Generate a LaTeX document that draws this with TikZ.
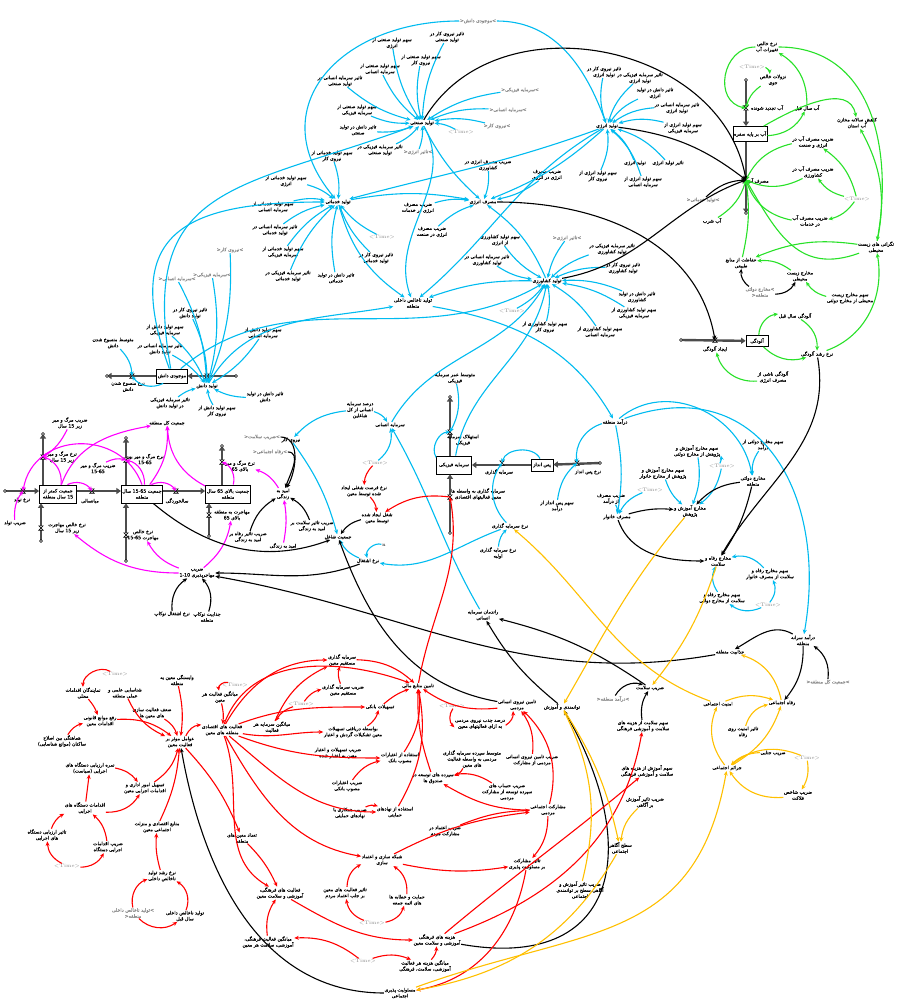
\documentclass[tikz,border=0pt]{standalone}
\usepackage{fontspec}
\usetikzlibrary{arrows.meta}
\TeXXeTstate=1
\newfontfamily\arabicfont[Script=Arabic,FakeBold=0.5]{DejaVu Sans}
\newcommand\F[1]{\beginR#1\endR}
\newcommand\N[1]{\beginL#1\endL}
\definecolor{cB}{RGB}{0,187,240}
\definecolor{cG}{RGB}{40,225,40}
\definecolor{cM}{RGB}{255,0,255}
\definecolor{cR}{RGB}{255,0,0}
\definecolor{cY}{RGB}{255,192,0}
\tikzset{
 lb/.style={font=\arabicfont\fontsize{4.7}{6}\selectfont,align=center,inner sep=0.5pt,text=black},
 gl/.style={lb,text=black!45},
 tm/.style={font=\fontsize{5}{6}\selectfont,text=black!45,inner sep=0.5pt},
 bx/.style={lb,draw,line width=0.8pt,fill=white,inner sep=2pt},
 ar/.style={line width=1.1pt,-{Stealth[length=4.5pt,width=4pt]}},
 B/.style={ar,draw=cB}, G/.style={ar,draw=cG}, M/.style={ar,draw=cM},
 R/.style={ar,draw=cR}, Y/.style={ar,draw=cY}, K/.style={ar,draw=black},
 pipe/.style={line width=2.4pt,draw=black!70,-{Triangle[length=4.5pt,width=6pt]}},
 pics/vlv/.style={code={\draw[line width=0.6pt,fill=white] (-2.2,-2.2)--(2.2,2.2)--(-2.2,2.2)--(2.2,-2.2)--cycle;}},
 pics/cld/.style={code={\draw[line width=0.5pt,fill=white] (0,0) circle (1.5);}},
}
\begin{document}
\begin{tikzpicture}[x=1pt,y=-1pt]
\path[use as bounding box,fill=white] (0,0) rectangle (897,1003);

% ================= BLUE PRODUCTION CLUSTER =================
\node[lb] (ind) at (422,123) {\F{تولید صنعتی}};
\node[lb] (srv) at (338,202) {\F{تولید خدماتی}};
\node[lb] (enc) at (483,202) {\F{مصرف انرژی}};
\node[lb] (enp) at (607,126) {\F{تولید انرژی}};
\node[lb] (agr) at (547,281) {\F{تولید کشاورزی}};
\node[lb] (gdp) at (413,303) {\F{تولید ناخالص داخلی}\\\F{منطقه}};

\node[lb] (i1) at (447,37) {\F{تاثیر نیروی کار در}\\\F{تولید صنعتی}};
\node[lb] (i2) at (392,43) {\F{سهم تولید صنعتی از}\\\F{انرژی}};
\node[lb] (i3) at (421,60) {\F{سهم تولید صنعتی از}\\\F{نیروی کار}};
\node[lb] (i4) at (380,69) {\F{سهم تولید صنعتی از}\\\F{سرمایه انسانی}};
\node[lb] (i5) at (340,81) {\F{تاثیر سرمایه انسانی در}\\\F{تولید صنعتی}};
\node[lb] (i6) at (357,110) {\F{سهم تولید صنعتی از}\\\F{سرمایه فیزیکی}};
\node[lb] (i7) at (358,130) {\F{تاثیر دانش در تولید}\\\F{صنعتی}};
\node[lb] (i8) at (380,150) {\F{تاثیر سرمایه فیزیکی در}\\\F{تولید صنعتی}};
\node[gl] (ig1) at (418,152) {<\F{تاثیر انرژی}>};
\node[tm] (it) at (461,132) {<Time>};
\node[gl] (ig2) at (520,90) {<\F{سرمایه فیزیکی}>};
\node[gl] (ig3) at (508,110) {<\F{سرمایه انسانی}>};
\node[gl] (ig4) at (497,126) {<\F{نیروی کار}>};
\node[gl] (ig5) at (478,21) {<\F{موجودی دانش}>};

\node[lb] (s1) at (286,181) {\F{سهم تولید خدماتی از}\\\F{انرژی}};
\node[lb] (s2) at (273,207) {\F{سهم تولید خدماتی از}\\\F{سرمایه انسانی}};
\node[lb] (s3) at (275,230) {\F{تاثیر سرمایه انسانی در}\\\F{تولید خدماتی}};
\node[lb] (s4) at (283,252) {\F{سهم تولید خدماتی از}\\\F{سرمایه فیزیکی}};
\node[lb] (s5) at (332,156) {\F{سهم تولید خدماتی از}\\\F{نیروی کار}};
\node[lb] (s6) at (376,258) {\F{تاثیر نیروی کار در}\\\F{تولید خدماتی}};
\node[lb] (s7) at (336,278) {\F{تاثیر دانش در تولید}\\\F{خدماتی}};
\node[lb] (s8) at (288,276) {\F{تاثیر سرمایه فیزیکی در}\\\F{تولید خدماتی}};
\node[tm] (st) at (382,237) {<Time>};

\node[lb] (e1) at (488,165) {\F{ضریب مصرف انرژی در}\\\F{کشاورزی}};
\node[lb] (e2) at (547,175) {\F{ضریب مصرف}\\\F{انرژی در انرژی}};
\node[lb] (e3) at (418,208) {\F{ضریب مصرف}\\\F{انرژی در خدمات}};
\node[lb] (e4) at (432,232) {\F{ضریب مصرف}\\\F{انرژی در صنعت}};

\node[lb] (p1) at (604,72) {\F{تاثیر نیروی کار در}\\\F{تولید انرژی}};
\node[lb] (p2) at (640,78) {\F{تاثیر سرمایه فیزیکی در}\\\F{تولید انرژی}};
\node[lb] (p3) at (655,93) {\F{تاثیر دانش در تولید}\\\F{انرژی}};
\node[lb] (p4) at (677,108) {\F{تاثیر سرمایه انسانی در}\\\F{تولید انرژی}};
\node[lb] (p5) at (683,128) {\F{سهم تولید انرژی از}\\\F{سرمایه فیزیکی}};
\node[lb] (p6) at (668,163) {\F{تاثیر تولید انرژی}};
\node[lb] (p7) at (635,163) {\F{تولید انرژی}};
\node[lb] (p8) at (598,176) {\F{سهم تولید انرژی از}\\\F{نیروی کار}};
\node[lb] (p9) at (643,182) {\F{سهم تولید انرژی از}\\\F{سرمایه انسانی}};

\node[lb] (a1) at (487,260) {\F{تاثیر سرمایه انسانی در}\\\F{تولید کشاورزی}};
\node[lb] (a2) at (612,249) {\F{تاثیر سرمایه فیزیکی در}\\\F{تولید کشاورزی}};
\node[lb] (a3) at (623,268) {\F{تاثیر نیروی کار در}\\\F{تولید کشاورزی}};
\node[lb] (a4) at (637,297) {\F{تاثیر دانش در تولید}\\\F{کشاورزی}};
\node[lb] (a5) at (634,313) {\F{سهم تولید کشاورزی از}\\\F{سرمایه فیزیکی}};
\node[lb] (a6) at (600,332) {\F{سهم تولید کشاورزی از}\\\F{سرمایه انسانی}};
\node[lb] (a7) at (545,327) {\F{سهم تولید کشاورزی از}\\\F{نیروی کار}};
\node[lb] (a8) at (500,240) {\F{سهم تولید کشاورزی}\\\F{از انرژی}};
\node[tm] (at) at (512,311) {<Time>};
\node[gl] (ag) at (567,238) {<\F{تاثیر انرژی}>};

% knowledge
\coordinate (ck1) at (236,376); \coordinate (vk1) at (207,376);
\coordinate (vk2) at (132,376); \coordinate (ck2) at (107,376);
\node[bx,minimum width=26pt,minimum height=14pt,inner sep=1pt] (kst) at (172,376) {\F{موجودی دانش}};
\draw[pipe] (ck1) -- (kst);
\draw[pipe] (kst) -- (ck2);
\pic at (ck1) {cld}; \pic at (ck2) {cld}; \pic at (vk1) {vlv}; \pic at (vk2) {vlv};
\node[lb] (knp) at (207,386) {\F{تولید دانش}};
\node[lb] (ko) at (128,387) {\F{نرخ منسوخ شدن}\\\F{دانش}};
\node[lb] (kavg) at (113,343) {\F{متوسط منسوخ شدن}\\\F{دانش}};
\node[lb] (k1) at (190,313) {\F{تاثیر نیروی کار در}\\\F{تولید دانش}};
\node[lb] (k2) at (165,330) {\F{سهم تولید دانش از}\\\F{سرمایه فیزیکی}};
\node[lb] (k3) at (160,349) {\F{تاثیر سرمایه انسانی در}\\\F{تولید دانش}};
\node[lb] (k4) at (263,333) {\F{سهم تولید دانش از}\\\F{سرمایه انسانی}};
\node[lb] (k5) at (265,397) {\F{تاثیر دانش در تولید}\\\F{دانش}};
\node[lb] (k6) at (170,403) {\F{تاثیر سرمایه فیزیکی}\\\F{در تولید دانش}};
\node[lb] (k7) at (217,411) {\F{سهم تولید دانش از}\\\F{نیروی کار}};
\node[gl] (kg1) at (177,279) {<\F{سرمایه انسانی}>};
\node[gl] (kg2) at (212,275) {<\F{سرمایه فیزیکی}>};
\node[gl] (kg3) at (230,250) {<\F{نیروی کار}>};

% ================= GREEN CLUSTER =================
\coordinate (cw1) at (746,80); \coordinate (vw1) at (746,108);
\coordinate (vw2) at (746,180); \coordinate (cw2) at (746,213);
\node[bx,minimum width=27pt,minimum height=15pt,inner sep=1pt] (wbox) at (750,134) {\F{آب بر پایه سفره}};
\draw[pipe] (cw1) -- (wbox.north -| cw1);
\draw[pipe] (wbox.south -| cw2) -- (cw2);
\pic at (cw1) {cld}; \pic at (cw2) {cld}; \pic at (vw1) {vlv}; \pic at (vw2) {vlv};
\node[lb] (wnet) at (767,47) {\F{نرخ خالص}\\\F{تغییرات آب}};
\node[tm] (wt) at (752,67) {<Time>};
\node[lb] (wrain) at (773,80) {\F{نزولات خالص}\\\F{جوی}};
\node[lb] (wren) at (767,108) {\F{آب تجدید شونده}};
\node[lb] (wprev) at (807,108) {\F{آب سال قبل}};
\node[lb] (wdec) at (857,123) {\F{کاهش سالانه مخازن}\\\F{آب استان}};
\node[lb] (wc1) at (813,142) {\F{ضریب مصرف آب در}\\\F{انرژی و صنعت}};
\node[lb] (wc2) at (813,172) {\F{ضریب مصرف آب در}\\\F{کشاورزی}};
\node[lb] (wuse) at (758,181) {\F{مصرف آب}};
\node[tm] (wt2) at (857,199) {<Time>};
\node[lb] (wc3) at (810,221) {\F{ضریب مصرف آب}\\\F{در خدمات}};
\node[lb] (wdr) at (712,221) {\F{آب شرب}};
\node[gl] (wsg) at (703,200) {<\F{تولید خدماتی}>};
\node[lb] (wenv) at (876,247) {\F{نگرانی های زیست}\\\F{محیطی}};
\node[lb] (wprot) at (741,263) {\F{حفاظت از منابع}\\\F{طبیعی}};
\node[lb] (wexp) at (800,276) {\F{مخارج زیست}\\\F{محیطی}};
\node[gl] (wgov) at (760,292) {\F{مخارج دولتی}>\\<\F{منطقه}};
\node[lb] (wsh) at (850,298) {\F{سهم مخارج زیست}\\\F{محیطی از مخارج دولتی}};
\node[lb] (pprev) at (795,316) {\F{آلودگی سال قبل}};
\coordinate (cp1) at (681,340); \coordinate (vp1) at (715,340);
\node[bx,minimum width=22pt,minimum height=11pt,inner sep=1pt] (pbox) at (757,341) {\F{آلودگی}};
\draw[pipe] (cp1) -- (pbox);
\pic at (cp1) {cld}; \pic at (vp1) {vlv};
\node[lb] (pgen) at (715,349) {\F{ایجاد آلودگی}};
\node[lb] (pgr) at (817,354) {\F{نرخ رشد آلودگی}};
\node[lb] (pen) at (773,377) {\F{آلودگی ناشی از}\\\F{مصرف انرژی}};

% ================= POPULATION (MAGENTA) =================
\node[bx,minimum width=37pt,minimum height=18pt,inner sep=1pt] (pb1) at (58,494) {\F{جمعیت کمتر از}\\\F{\N{15} سال منطقه}};
\node[bx,minimum width=37pt,minimum height=18pt,inner sep=1pt] (pb2) at (142,494) {\F{جمعیت \N{15-65} سال}\\\F{منطقه}};
\node[bx,minimum width=45pt,minimum height=18pt,inner sep=1pt] (pb3) at (228,494) {\F{جمعیت بالای \N{65} سال}\\\F{منطقه}};
\coordinate (cb0) at (5,491); \coordinate (vb) at (23,491);
\coordinate (vm) at (92,491); \coordinate (vo) at (176,491);
\draw[pipe] (cb0) -- (pb1.west |- cb0);
\draw[pipe] (pb1.east |- vm) -- (pb2.west |- vm);
\draw[pipe] (pb2.east |- vo) -- (pb3.west |- vo);
\coordinate (cd1) at (43,434); \coordinate (vd1) at (43,457);
\coordinate (cd2) at (126,438); \coordinate (vd2) at (126,460);
\coordinate (cd3) at (222,446); \coordinate (vd3) at (222,462);
\coordinate (cm1) at (41,541); \coordinate (vm1) at (41,528);
\coordinate (cm2) at (126,561); \coordinate (vm2) at (126,535);
\coordinate (cm3) at (209,536); \coordinate (vm3) at (209,515);
\draw[pipe] (pb1.north -| cd1) -- (cd1);
\draw[pipe] (pb2.north -| cd2) -- (cd2);
\draw[pipe] (pb3.north -| cd3) -- (cd3);
\draw[pipe] (cm1) -- (pb1.south -| cm1);
\draw[pipe] (cm2) -- (pb2.south -| cm2);
\draw[pipe] (cm3) -- (pb3.south -| cm3);
\foreach \c in {cb0,cd1,cd2,cd3,cm1,cm2,cm3} \pic at (\c) {cld};
\foreach \v in {vb,vm,vo,vd1,vd2,vd3,vm1,vm2,vm3} \pic at (\v) {vlv};
\node[lb] (mbr) at (22,500) {\F{نرخ تولد}};
\node[lb] (mmid) at (90,501) {\F{میانسالی}};
\node[lb] (mold) at (177,501) {\F{سالخوردگی}};
\node[lb] (mb) at (15,523) {\F{ضریب تولد}};
\node[lb] (m1) at (70,423) {\F{ضریب مرگ و میر}\\\F{زیر \N{15} سال}};
\node[lb] (m2) at (62,457) {\F{نرخ مرگ و میر}\\\F{زیر \N{15} سال}};
\node[lb] (m3) at (98,468) {\F{ضریب مرگ و میر}\\\F{\N{15-65}}};
\node[lb] (m4) at (145,459) {\F{نرخ مرگ و میر بین}\\\F{\N{15-65}}};
\node[lb] (m5) at (240,466) {\F{نرخ مرگ و میر}\\\F{بالای \N{65}}};
\node[lb] (m6) at (167,423) {\F{جمعیت کل منطقه}};
\node[lb] (m7) at (67,528) {\F{نرخ خالص مهاجرت}\\\F{زیر \N{15} سال}};
\node[lb] (m8) at (143,535) {\F{نرخ خالص}\\\F{مهاجرت \N{15-65}}};
\node[lb] (m9) at (232,515) {\F{مهاجرت به منطقه}\\\F{بالای \N{65}}};
\node[lb] (m10) at (197,573) {\F{ضریب}\\\F{مهاجرپذیری \N{1-10}}};
\node[lb] (m11) at (172,614) {\F{نرخ اشتغال نوکاپ}};
\node[lb] (m12) at (207,617) {\F{جذابیت نوکاپ}\\\F{منطقه}};
\node[lb] (le1) at (283,494) {\F{امید به}\\\F{زندگی}};
\node[lb] (lea) at (248,537) {\F{ضریب تاثیر رفاه بر}\\\F{امید به زندگی}};
\node[lb] (leb) at (312,526) {\F{ضریب تاثیر سلامت بر}\\\F{امید به زندگی}};
\node[lb] (le2) at (283,546) {\F{امید به زندگی}};
\node[gl] (gsf) at (262,437) {<\F{ضریب سلامت}>};
\node[gl] (gwel) at (270,452) {<\F{رفاه اجتماعی}>};
\node[lb] (labor) at (291,440) {\F{نیروی کار}};

% ================= EMPLOYMENT / CAPITAL =================
\node[lb] (emp) at (338,537) {\F{جمعیت شاغل}};
\node[lb] (emr) at (368,561) {\F{نرخ اشتغال}};
\node[font=\fontsize{5}{6}\selectfont,inner sep=0.5pt] (nn) at (384,545) {n};
\node[lb] (jcr) at (377,518) {\F{شغل ایجاد شده}\\\F{توسط معین}};
\node[lb] (jrate) at (364,491) {\F{نرخ فرصت شغلی ایجاد}\\\F{شده توسط معین}};
\node[tm] (temp) at (375,463) {<Time>};
\node[lb] (hc) at (390,425) {\F{سرمایه انسانی}};
\node[lb] (hcp) at (360,410) {\F{درصد سرمایه}\\\F{انسانی از کل}\\\F{شاغلین}};

\node[bx,minimum width=35pt,minimum height=18pt,inner sep=1pt] (pk) at (454,465) {\F{سرمایه فیزیکی}};
\node[bx,minimum width=22pt,minimum height=12pt,inner sep=1pt] (sav) at (542,465) {\F{پس انداز}};
\coordinate (cs) at (600,463); \coordinate (vsav) at (577,463);
\coordinate (vinv) at (502,463);
\coordinate (ck) at (450,397); \coordinate (vdep) at (450,432);
\coordinate (ci) at (450,533); \coordinate (vinvm) at (450,497);
\draw[pipe] (cs) -- (sav);
\draw[pipe] (sav) -- (pk);
\draw[pipe] (pk.north -| ck) -- (ck);
\draw[pipe] (ci) -- (pk.south -| ci);
\foreach \c in {cs,ck,ci} \pic at (\c) {cld};
\foreach \v in {vsav,vinv,vdep,vinvm} \pic at (\v) {vlv};
\node[lb] (dep) at (463,440) {\F{استهلاک سرمایه}\\\F{فیزیکی}};
\node[lb] (life) at (455,378) {\F{متوسط عمر سرمایه}\\\F{فیزیکی}};
\node[lb] (savr) at (588,472) {\F{نرخ پس انداز}};
\node[lb] (inv) at (499,472) {\F{سرمایه گذاری}};
\node[lb] (invm) at (478,494) {\F{سرمایه گذاری به واسطه ها}\\\F{معین فعالیتهای اقتصادی}};
\node[lb] (ssh) at (557,506) {\F{سهم پس انداز از}\\\F{درآمد}};
\node[lb] (invr) at (510,526) {\F{نرخ سرمایه گذاری}};
\node[lb] (invr0) at (498,553) {\F{نرخ سرمایه گذاری}\\\F{اولیه}};
\node[lb] (heff) at (483,615) {\F{راندمان سرمایه}\\\F{انسانی}};

% ================= RIGHT (BUDGET) =================
\node[lb] (inc) at (615,422) {\F{درآمد منطقه}};
\node[lb] (gsh) at (763,445) {\F{سهم مخارج دولتی از}\\\F{درآمد}};
\node[lb] (edg) at (697,451) {\F{سهم مخارج آموزش و}\\\F{پژوهش از مخارج دولتی}};
\node[tm] (t9) at (722,466) {<Time>};
\node[lb] (edh) at (663,473) {\F{سهم مخارج آموزش و}\\\F{پژوهش از مخارج خانوار}};
\node[lb] (gov) at (753,481) {\F{مخارج دولتی}\\\F{منطقه}};
\node[tm] (t10) at (650,490) {<Time>};
\node[lb] (hcs) at (611,499) {\F{ضریب مصرف}\\\F{از درآمد}};
\node[lb] (hh) at (617,517) {\F{مصرف خانوار}};
\node[lb] (ed) at (690,511) {\F{مخارج آموزش و}\\\F{پژوهش}};
\node[lb] (welf) at (718,561) {\F{مخارج رفاه و}\\\F{سلامت}};
\node[lb] (wsh1) at (770,574) {\F{سهم مخارج رفاه و}\\\F{سلامت از مصرف خانوار}};
\node[lb] (wsh2) at (722,598) {\F{سهم مخارج رفاه و}\\\F{سلامت از مخارج دولتی}};
\node[tm] (t11) at (768,605) {<Time>};
\node[lb] (pci) at (803,640) {\F{درآمد سرانه}\\\F{منطقه}};
\node[lb] (attr) at (730,652) {\F{جذابیت منطقه}};
\node[gl] (gpop) at (828,682) {<\F{جمعیت کل منطقه}>};
\node[gl] (ginc) at (613,699) {<\F{درآمد منطقه}>};
\node[lb] (hcoef) at (650,688) {\F{ضریب سلامت}};
\node[lb] (swel) at (782,703) {\F{رفاه اجتماعی}};
\node[lb] (ssec) at (718,704) {\F{امنیت اجتماعی}};
\node[lb] (secw) at (743,732) {\F{تاثیر امنیت روی}\\\F{رفاه}};
\node[lb] (hsh) at (643,726) {\F{سهم سلامت از هزینه های}\\\F{سلامت و آموزشی فرهنگی}};
\node[lb] (crc) at (773,753) {\F{ضریب جنایی}};
\node[tm] (t12) at (807,758) {<Time>};
\node[lb] (crime) at (727,768) {\F{جرائم اجتماعی}};
\node[lb] (esh) at (647,771) {\F{سهم آموزش از هزینه های}\\\F{سلامت و آموزشی فرهنگی}};
\node[lb] (misery) at (798,795) {\F{ضریب شاخص}\\\F{فلاکت}};
\node[lb] (awc) at (645,802) {\F{ضریب تاثیر آموزش}\\\F{بر آگاهی}};
\node[lb] (aware) at (620,848) {\F{سطح آگاهی}\\\F{اجتماعی}};
\node[lb] (emc) at (580,890) {\F{ضریب تاثیر آموزش و}\\\F{آگاهی سطح بر توانمندی}\\\F{اجتماعی}};
\node[lb] (empw) at (562,707) {\F{توانمندی و آموزش}};

% ================= RED CLUSTER =================
\node[lb] (r1) at (83,693) {\F{نمایندگان اقدامات}\\\F{محلی}};
\node[tm] (rt1) at (115,674) {<Time>};
\node[lb] (r2) at (125,693) {\F{شناسایی علمی و}\\\F{عملی منطقه}};
\node[lb] (r3) at (177,680) {\F{وابستگی معین به}\\\F{منطقه}};
\node[lb] (r4) at (100,721) {\F{رفع موانع قانونی}\\\F{اقدامات معین}};
\node[lb] (r5) at (152,713) {\F{ضعف فعالیت سازی}\\\F{های معین ها}};
\node[lb] (r6) at (62,741) {\F{هماهنگی بین اصلاح}\\\F{ساکنان (موانع شناسایی)}};
\node[lb] (r7) at (180,742) {\F{عوامل موثر بر}\\\F{فعالیت معین}};
\node[lb] (r8) at (220,697) {\F{میانگین فعالیت هر}\\\F{معین}};
\node[tm] (rt2) at (235,685) {<Time>};
\node[lb] (r9) at (222,730) {\F{فعالیت های اقتصادی}\\\F{منطقه های معین}};
\node[lb] (r10) at (272,727) {\F{میانگین سرمایه هر}\\\F{فعالیت}};
\node[tm] (rt3) at (301,704) {<Time>};
\node[lb] (r11) at (342,660) {\F{سرمایه گذاری}\\\F{مستقیم معین}};
\node[lb] (r12) at (343,690) {\F{ضریب سرمایه گذاری}\\\F{مستقیم معین}};
\node[lb] (r13) at (380,707) {\F{تسهیلات بانکی}};
\node[lb] (r14) at (353,732) {\F{بواسطه دریافتی تسهیلات}\\\F{معین تشکیلات گردش و اعتبار}};
\node[lb] (r15) at (418,686) {\F{تامین منابع مالی}};
\node[lb] (r16) at (517,705) {\F{تامین نیروی انسانی}\\\F{مردمی}};
\node[tm] (rt5) at (452,706) {<Time>};
\node[lb] (r17) at (480,724) {\F{درصد جذب نیروی مردمی}\\\F{به ازای فعالیتهای معین}};
\node[lb] (r18) at (338,753) {\F{ضریب تسهیلات و اعتبار}\\\F{معین به اعتبار شده}};
\node[lb] (r19) at (400,758) {\F{استفاده از اعتبارات}\\\F{مصوب بانک}};
\node[lb] (r20) at (347,786) {\F{ضریب اعتبارات}\\\F{مصوب بانکی}};
\node[lb] (r21) at (350,813) {\F{ضریب همکاری با}\\\F{نهادهای حمایتی}};
\node[lb] (r22) at (395,812) {\F{استفاده از نهادهای}\\\F{حمایتی}};
\node[lb] (r23) at (472,759) {\F{متوسط سپرده سرمایه گذاری}\\\F{مردمی به واسطه فعالیت}\\\F{های معین}};
\node[lb] (r24) at (433,778) {\F{سپرده های توسعه در}\\\F{صندوق ها}};
\node[lb] (r25) at (532,760) {\F{ضریب تامین نیروی انسانی}\\\F{مردمی از مشارکت}};
\node[lb] (r26) at (507,792) {\F{ضریب حساب های}\\\F{سپرده توسعه از مشارکت}\\\F{مردمی}};
\node[lb] (r27) at (548,810) {\F{مشارکت اجتماعی}\\\F{مردمی}};
\node[lb] (r28) at (445,831) {\F{ضریب اعتماد در}\\\F{مشارکت مردم}};
\node[lb] (r29) at (382,860) {\F{شبکه سازی و اعتماد}\\\F{سازی}};
\node[lb] (r30) at (527,864) {\F{تاثیر مشارکت}\\\F{بر مسئولیت پذیری}};
\node[lb] (r31) at (345,893) {\F{تاثیر فعالیت های معین}\\\F{بر جلب اعتماد مردم}};
\node[lb] (r32) at (407,900) {\F{حمایت و خطابه ها}\\\F{های ائمه جمعه}};
\node[tm] (rt6) at (372,923) {<Time>};
\node[lb] (r33) at (437,940) {\F{هزینه های فرهنگی}\\\F{آموزشی و سلامت معین}};
\node[lb] (r34) at (280,893) {\F{فعالیت های فرهنگی،}\\\F{آموزشی و سلامت معین}};
\node[lb] (r35) at (268,942) {\F{میانگین فعالیت فرهنگی،}\\\F{آموزشی، سلامت هر معین}};
\node[tm] (rt7) at (363,961) {<Time>};
\node[lb] (r36) at (425,966) {\F{میانگین هزینه هر فعالیت}\\\F{آموزشی، سلامت، فرهنگی}};
\node[lb] (r37) at (400,993) {\F{مسئولیت پذیری}\\\F{اجتماعی}};
\node[lb] (r38) at (90,768) {\F{نمره ارزیابی دستگاه های}\\\F{اجرایی (سیاست)}};
\node[lb] (r39) at (145,788) {\F{تسهیل امور اداری و}\\\F{اقدامات اجرایی معین}};
\node[lb] (r40) at (85,808) {\F{اقدامات دستگاه های}\\\F{اجرایی}};
\node[lb] (r41) at (47,835) {\F{تاثیر ارزیابی دستگاه}\\\F{های اجرایی}};
\node[lb] (r42) at (108,847) {\F{ضریب اقدامات}\\\F{اجرایی دستگاه}};
\node[tm] (rt8) at (67,866) {<Time>};
\node[lb] (r43) at (157,827) {\F{منابع اقتصادی و منزلت}\\\F{اجتماعی معین}};
\node[lb] (r44) at (162,876) {\F{نرخ رشد تولید}\\\F{ناخالص داخلی}};
\node[gl] (r45) at (133,913) {\F{تولید ناخالص داخلی}>\\<\F{منطقه}};
\node[lb] (r46) at (185,916) {\F{تولید ناخالص داخلی}\\\F{سال قبل}};
\node[lb] (r47) at (242,838) {\F{تعداد معین های}\\\F{منطقه}};

% ================= EDGES: BLUE =================
\foreach \s in {i1,i2,i3,i4,i5,i6,i7,i8,ig1,it,ig2,ig3,ig4} \draw[B] (\s) to[bend right=12] (ind);
\foreach \s in {s1,s2,s3,s4,s5,s6,s7,s8,st} \draw[B] (\s) to[bend left=12] (srv);
\foreach \s in {e1,e2,e3,e4} \draw[B] (\s) to[bend left=12] (enc);
\foreach \s in {p1,p2,p3,p4,p5,p6,p7,p8,p9} \draw[B] (\s) to[bend right=15] (enp);
\foreach \s in {a1,a2,a3,a4,a5,a6,a7,a8,at,ag} \draw[B] (\s) to[bend right=12] (agr);
\foreach \s in {k1,k2,k3,k4,k5,k6,k7,kg1,kg2,kg3} \draw[B] (\s) to[bend left=12] (knp);
\draw[B] (ind) to[bend right=10] (enc);
\draw[B] (srv) to[bend left=10] (enc);
\draw[B] (agr) to[bend right=15] (enc);
\draw[B] (enp) to[bend left=10] (enc);
\draw[B] (srv) to[bend right=20] (gdp);
\draw[B] (agr) to[bend right=10] (gdp);
\draw[B] (ind) to[out=-60,in=110] (gdp);
\draw[B] (enp) to[out=210,in=40] (gdp);
\draw[B] (knp) to[out=60,in=190] (gdp);
\draw[B] (ig5) to[out=180,in=130,looseness=1.4] (srv);
\draw[B] (ig5) to[out=0,in=110] (enp);
\draw[B] (enp) to[out=200,in=15] (srv);
\draw[B] (kst) to[out=110,in=180,looseness=1.6] (srv);
\draw[B] (kst) to[out=100,in=200,looseness=1.4] (ind);
\draw[B] (kst) to[out=40,in=210] (agr);
\draw[B] (kst) to[bend left=40] (vk2);
\draw[B] (kavg) to[bend left=20] (vk2);
\draw[B] (gdp) to[out=-10,in=120] (inc);
\draw[B] (hc) to[out=60,in=240] (agr);
\draw[B] (pk) to[out=80,in=260] (agr);
\draw[B] (pk) to[bend left=60] (vdep);
\draw[B] (life) to[bend left=20] (vdep);
\draw[B] (hcp) to[bend left=20] (hc);
\draw[B] (hcp) to[bend right=20] (labor);
\draw[B] (temp) to[bend right=30] (hc);
\draw[B] (labor) to[bend left=10] (emp);
\draw[B] (emr) to[bend left=20] (emp);
\draw[B] (nn) to[bend right=60] (emr);
\draw[B] (heff) to[out=120,in=-60] (hc);
\draw[B] (invr) to[out=200,in=-10] (emr);
\draw[B] (invr0) to[bend left=20] (invr);
\draw[B] (invr) to[bend left=40] (vinv);
\draw[B] (sav) to[bend right=70] (vinv);
\draw[B] (inc) to[bend right=40] (vsav);
\draw[B] (ssh) to[bend left=20] (vsav);
\draw[B] (inc) to[bend left=10] (hh);
\draw[B] (hcs) to[bend left=20] (hh);
\draw[B] (t10) to[bend right=20] (hh);
\draw[B] (inc) to[out=40,in=100,looseness=1.1] (gov);
\draw[B] (inc) to[out=20,in=80,looseness=1.3] (pci);
\draw[B] (gsh) to[bend right=20] (gov);
\draw[B] (edg) to[bend left=15] (ed);
\draw[B] (edh) to[bend right=15] (ed);
\draw[B] (t9) to[bend right=20] (edg);
\draw[B] (t9) to[bend left=20] (ed);
\draw[B] (wsh1) to[bend right=30] (welf);
\draw[B] (wsh2) to[bend left=30] (welf);
\draw[B] (t11) to[bend right=30] (wsh1);
\draw[B] (t11) to[bend left=30] (wsh2);

% ================= EDGES: GREEN =================
\draw[G] (wt) to[bend left=30] (wrain);
\draw[G] (wrain) to[bend right=20] (vw1);
\draw[G] (wnet) to[out=180,in=170,looseness=1.4] (vw1);
\draw[G] (wbox) to[bend right=30] (wprev);
\draw[G] (wprev) to[bend right=30] (wnet);
\draw[G] (wbox) to[out=30,in=100] (wdec);
\draw[G] (wnet) to[out=0,in=80,looseness=1.1] (wenv);
\draw[G] (wenv) to[bend right=20] (wdec);
\draw[G] (wc1) to[bend right=25] (vw2);
\draw[G] (wc2) to[bend left=25] (vw2);
\draw[G] (wc3) to[bend left=30] (vw2);
\draw[G] (wdr) to[bend right=20] (vw2);
\draw[G] (wt2) to[bend right=20] (wc1);
\draw[G] (wt2) to[bend left=20] (wc2);
\draw[G] (wt2) to[bend left=20] (wc3);
\draw[G] (wprot) to[bend right=10] (vw2);
\draw[G] (wenv) to[out=200,in=-60,looseness=1.2] (vw2);
\draw[G] (wexp) to[bend right=20] (wprot);
\draw[G] (wenv) to[bend right=15] (wprot);
\draw[G] (wsh) to[bend left=20] (wexp);
\draw[G] (pgr) to[out=20,in=-80] (wenv);
\draw[G] (pbox) to[bend left=40] (pprev);
\draw[G] (pprev) to[bend left=30] (pgr);
\draw[G] (pbox) to[bend right=30] (pgr);
\draw[G] (pen) to[bend left=40] (pgen);
\draw[K] (wgov) to[bend left=30] (wprot);
\draw[K] (wgov) to[bend right=30] (wexp);

% ================= EDGES: MAGENTA =================
\draw[M] (m1) to[bend left=15] (vd1);
\draw[M] (pb1) to[bend right=40] (vd1);
\draw[M] (pb2.north) to[out=110,in=80,looseness=1.3] (vb);
\draw[M] (mb) to[bend left=20] (vb);
\draw[M] (pb1) to[bend left=40] (vm);
\draw[M] (m3) to[bend left=20] (vd2);
\draw[M] (pb2) to[bend right=40] (vd2);
\draw[M] (pb1) to[out=70,in=190] (m6);
\draw[M] (pb2) to[bend right=20] (m6);
\draw[M] (pb3) to[bend left=30] (m6);
\draw[M] (pb2) to[bend left=40] (vo);
\draw[M] (pb3) to[bend right=40] (vd3);
\draw[M] (le1) to[bend right=20] (m5);
\draw[M] (m10) to[out=180,in=-40] (m7);
\draw[M] (m10) to[bend left=20] (m8);
\draw[M] (m10) to[bend right=20] (m9);
\draw[M] (le2) to[bend right=10] (le1);

% ================= EDGES: BLACK =================
\draw[K] (m11) to[bend left=30] (m10);
\draw[K] (m12) to[bend right=30] (m10);
\draw[K] (emr) to[out=200,in=0] (m10);
\draw[K] (attr) to[out=190,in=-10] (m10);
\draw[K] (pb2) to[out=-40,in=200] (emp);
\draw[K] (lea) to[bend left=20] (le1);
\draw[K] (leb) to[bend right=20] (le1);
\draw[K] (gsf) to[out=0,in=60] (le1);
\draw[K] (gwel) to[out=0,in=70] (le1);
\draw[K] (jcr) to[bend right=20] (emp);
\draw[K] (r16) to[out=170,in=-70] (emp);
\draw[K] (hcoef) to[bend right=10] (heff);
\draw[K] (empw) to[bend left=10] (heff);
\draw[K] (gov) to[bend right=20] (ed);
\draw[K] (hh) to[bend left=10] (ed);
\draw[K] (gov) to[bend left=10] (welf);
\draw[K] (hh) to[out=-70,in=180] (welf);
\draw[K] (pgr) to[out=-80,in=60] (welf);
\draw[K] (pci) to[out=150,in=30] (attr);
\draw[K] (pci) to[bend left=20] (swel);
\draw[K] (gpop) to[bend right=30] (pci);
\draw[K] (ginc) to[bend left=40] (hcoef);
\draw[K] (hsh) to[bend left=20] (hcoef);
\draw[K] (r33) to[out=-10,in=-60,looseness=1.6] (empw);
\draw[K] (r37) to[out=180,in=-80] (r7);
\draw[K] (ind) to[out=60,in=100,looseness=1.1] (vw2);
\draw[K] (enp) to[bend left=15] (vw2);
\draw[K] (agr) to[out=10,in=200] (vw2);
\draw[K] (wsg) to[bend left=20] (vw2);
\draw[K] (enc) to[out=0,in=100] (vp1);

% ================= EDGES: RED =================
\draw[R] (temp) to[bend right=20] (jrate);
\draw[R] (jrate) to[bend left=20] (jcr);
\draw[R] (vinvm) to[bend right=20] (jcr);
\draw[R] (r15) to[out=80,in=-80] (vinvm);
\draw[R] (rt1) to[bend right=60] (r1);
\draw[R] (r1) to[bend left=10] (r4);
\draw[R] (r6) to[bend left=20] (r4);
\draw[R] (r4) to[bend left=20] (r7);
\draw[R] (r2) to[bend right=20] (r7);
\draw[R] (r3) to[bend left=10] (r7);
\draw[R] (r5) to[bend left=20] (r7);
\draw[R] (rt2) to[bend right=60] (r8);
\draw[R] (r8) to[bend left=10] (r9);
\draw[R] (r7) to[bend left=30] (r9);
\draw[R] (rt3) to[bend right=20] (r10);
\draw[R] (rt3) to[bend left=20] (r12);
\draw[R] (r10) to[bend left=20] (r11);
\draw[R] (r9) to[out=60,in=180] (r11);
\draw[R] (r9) to[out=20,in=180] (r13);
\draw[R] (r9) to[out=-10,in=180] (r14);
\draw[R] (r9) to[out=70,in=160] (r15);
\draw[R] (r9) to[out=-20,in=180] (r19);
\draw[R] (r9) to[out=-40,in=180] (r22);
\draw[R] (r9) to[out=-60,in=170] (r29);
\draw[R] (r9) to[out=-70,in=150] (r34);
\draw[R] (r12) to[bend left=20] (r11);
\draw[R] (r11) to[bend left=20] (r15);
\draw[R] (r13) to[bend left=10] (r15);
\draw[R] (r14) to[bend right=20] (r13);
\draw[R] (r19) to[bend right=20] (r15);
\draw[R] (r20) to[bend left=20] (r19);
\draw[R] (r22) to[bend right=20] (r15);
\draw[R] (r21) to[bend left=20] (r22);
\draw[R] (r23) to[bend left=20] (r24);
\draw[R] (r24) to[bend left=10] (r15);
\draw[R] (r26) to[bend right=20] (r24);
\draw[R] (r27) to[out=180,in=-30] (r24);
\draw[R] (r27) to[bend right=30] (r16);
\draw[R] (r25) to[bend right=20] (r16);
\draw[R] (r16) to[bend left=20] (r15);
\draw[R] (rt5) to[bend right=40] (r17);
\draw[R] (r17) to[bend right=30] (r16);
\draw[R] (r28) to[bend left=10] (r27);
\draw[R] (r29) to[bend left=10] (r27);
\draw[R] (r29) to[bend right=10] (r30);
\draw[R] (r27) to[bend left=20] (r30);
\draw[R] (r30) to[out=-100,in=10] (r37);
\draw[R] (r31) to[bend left=30] (r29);
\draw[R] (r32) to[bend right=30] (r29);
\draw[R] (rt6) to[bend left=30] (r31);
\draw[R] (rt6) to[bend right=30] (r32);
\draw[R] (r34) to[out=-30,in=180] (r33);
\draw[R] (r36) to[bend right=20] (r33);
\draw[R] (rt7) to[bend right=20] (r35);
\draw[R] (rt7) to[bend left=20] (r36);
\draw[R] (r35) to[bend left=20] (r34);
\draw[R] (r33) to[out=20,in=-100] (hsh);
\draw[R] (r33) to[out=40,in=-140] (esh);
\draw[R] (r38) to[bend left=20] (r39);
\draw[R] (r40) to[bend right=30] (r39);
\draw[R,{Stealth[length=4.5pt,width=4pt]}-] (r38) to (r40);
\draw[R] (rt8) to[bend left=30] (r41);
\draw[R] (rt8) to[bend right=30] (r42);
\draw[R] (r41) to[bend left=20] (r40);
\draw[R] (r42) to[bend right=20] (r40);
\draw[R] (r39) to[bend right=20] (r7);
\draw[R] (r43) to[bend right=10] (r7);
\draw[R] (r44) to[bend left=10] (r43);
\draw[R] (r45) to[bend left=40] (r44);
\draw[R] (r46) to[bend right=40] (r44);
\draw[R] (r45) to[bend right=40] (r46);
\draw[R] (r7) to[bend left=10] (r47);
\draw[R] (r47) to[bend left=10] (r34);

% ================= EDGES: YELLOW =================
\draw[Y] (welf) to[bend left=10] (hcoef);
\draw[Y] (ed) to[out=230,in=60] (empw);
\draw[Y] (ssec) to[out=160,in=-40] (invr);
\draw[Y] (swel) to[bend right=30] (attr);
\draw[Y] (ssec) to[bend left=20] (swel);
\draw[Y] (secw) to[bend left=30] (swel);
\draw[Y] (crime) to[bend left=30] (ssec);
\draw[Y] (crime) to[bend right=20] (swel);
\draw[Y] (crc) to[bend right=20] (crime);
\draw[Y] (t12) to[bend right=30] (crime);
\draw[Y] (misery) to[bend left=30] (crime);
\draw[Y] (t12) to[bend left=20] (misery);
\draw[Y] (awc) to[bend right=20] (aware);
\draw[Y] (empw) to[bend left=10] (aware);
\draw[Y] (aware) to[out=-120,in=10] (r37);
\draw[Y] (r37) to[out=20,in=-100,looseness=1.2] (crime);
\draw[Y] (emc) to[bend right=20] (empw);
\end{tikzpicture}
\end{document}
